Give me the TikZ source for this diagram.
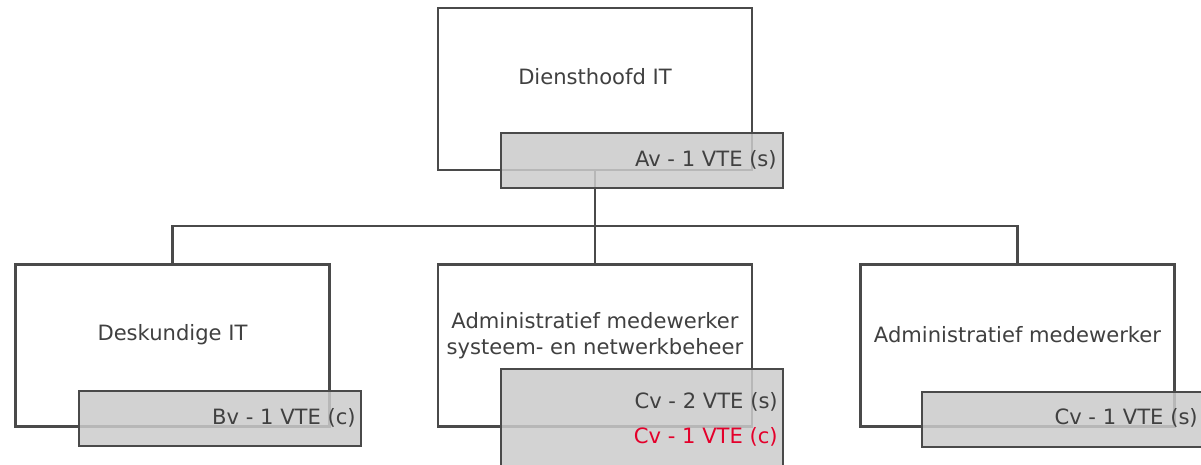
\documentclass[tikz,border=0pt]{standalone}
\usepackage{fontspec}
\setmainfont{DejaVu Sans}
\usetikzlibrary{positioning}

\definecolor{linegray}{HTML}{4A4A4A}
\definecolor{textgray}{HTML}{404040}
\definecolor{ftegray}{HTML}{CBCBCB}
\definecolor{vtered}{HTML}{E4002B}

\tikzset{
  funbox/.style={draw=linegray, line width=1.8pt, fill=white, minimum width=7.85cm, minimum height=4.05cm, inner sep=0pt},
  vtebox/.style={draw=linegray, line width=1.8pt, fill=ftegray, fill opacity=0.85, minimum width=7.05cm, minimum height=1.375cm, inner sep=0pt},
  funtext/.style={text=textgray, font=\fontsize{15}{18.5}\selectfont, align=center, inner sep=0pt},
  vtetext/.style={text=textgray, font=\fontsize{15}{18.5}\selectfont, anchor=east, inner sep=0pt},
  tree/.style={draw=linegray, line width=1.8pt}
}

\begin{document}
\begin{tikzpicture}[x=0.025cm, y=-0.025cm]
  \useasboundingbox (0,0) rectangle (1201,465);

  % functies
  \node[funbox] (chef) at (595,89) {};
  \node[funbox] (deskundige) at (172.5,345.5) {};
  \node[funbox] (sysadmin) at (595,345.5) {};
  \node[funbox] (admin) at (1017.5,345.5) {};

  % organigram
  \coordinate (bus) at (595,226);
  \draw[tree] (chef.south) -- (bus) -| (deskundige.north);
  \draw[tree] (bus) -| (admin.north);
  \draw[tree] (bus) -- (sysadmin.north);

  % bezetting
  \node[vtebox] (chefvte) at (642,160.5) {};
  \node[vtebox] (deskundigevte) at (220,418.5) {};
  \node[vtebox, minimum height=2.775cm] (sysadminvte) at (642,424.5) {};
  \node[vtebox] (adminvte) at (1063,419.5) {};

  % teksten
  \node[funtext] (chefname) at (595,77) {Diensthoofd IT};
  \node[funtext] (deskundigename) at (172.5,335) {Deskundige IT};
  \node[funtext] (sysadminname) at (595,336) {Administratief medewerker\\systeem- en netwerkbeheer};
  \node[funtext] (adminname) at (1017.5,335) {Administratief medewerker};

  \node[vtetext] (chefav) at (777,160) {Av - 1 VTE (s)};
  \node[vtetext] (deskundigebv) at (356,418) {Bv - 1 VTE (c)};
  \node[vtetext] (sysadmincv) at (778,402) {Cv - 2 VTE (s)};
  \node[vtetext, text=vtered] (sysadmincvc) at (778,437) {Cv - 1 VTE (c)};
  \node[vtetext] (admincv) at (1198,418) {Cv - 1 VTE (s)};
\end{tikzpicture}
\end{document}
